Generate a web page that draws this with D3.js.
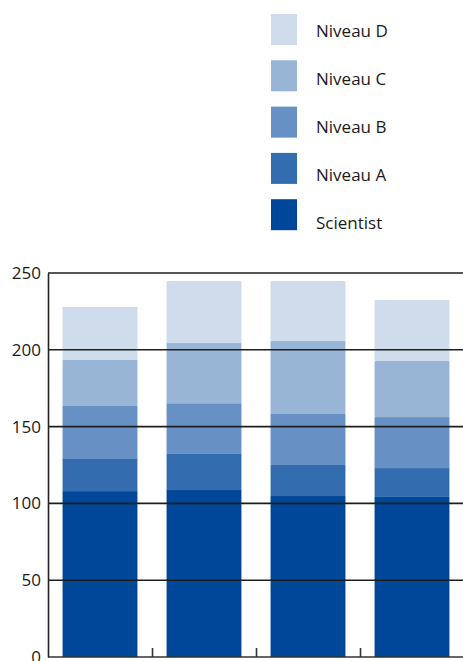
<!DOCTYPE html>
<html>
<head>
<meta charset="utf-8">
<script src="https://cdn.jsdelivr.net/npm/d3@7"></script>
<style>
  html, body { margin: 0; padding: 0; background: #fff; }
  svg { display: block; font-family: "Open Sans", "Noto Sans", sans-serif; }
</style>
</head>
<body>
<svg id="chart" width="463" height="661"></svg>
<script>
// data
const categories = ['1', '2', '3', '4']
const seriesNames = ['Scientist', 'Niveau A', 'Niveau B', 'Niveau C', 'Niveau D']
const scientist = [108, 108.7, 104.8, 104.2]
const niveauA = [21.4, 23.5, 20.2, 18.8]
const niveauB = [34, 33, 33.2, 33.2]
const niveauC = [30, 39.2, 47.5, 36.5]
const niveauD = [34.5, 40.4, 39.1, 39.7]
const yTicks = [0, 50, 100, 150, 200, 250]
const colors = ['#00479a', '#336db0', '#6791c4', '#99b5d6', '#cfdceb']

const rows = categories.map((c, i) => ({
  cat: c,
  'Scientist': scientist[i],
  'Niveau A': niveauA[i],
  'Niveau B': niveauB[i],
  'Niveau C': niveauC[i],
  'Niveau D': niveauD[i]
}))

const svg = d3.select('#chart')
const plotLeft = 48, plotRight = 464, plotTop = 273, plotBottom = 657

const x = d3.scaleBand()
    .domain(categories)
    .range([plotLeft, plotRight])
    .paddingInner(0.28)
    .paddingOuter(0.14)

const y = d3.scaleLinear()
    .domain([0, 250])
    .range([plotBottom, plotTop])

const color = d3.scaleOrdinal().domain(seriesNames).range(colors)

const stack = d3.stack().keys(seriesNames)(rows)

// bars
svg.append('g')
  .selectAll('g')
  .data(stack)
  .join('g')
    .attr('fill', d => color(d.key))
  .selectAll('rect')
  .data(d => d)
  .join('rect')
    .attr('x', d => x(d.data.cat))
    .attr('y', d => y(d[1]))
    .attr('width', x.bandwidth())
    .attr('height', d => y(d[0]) - y(d[1]))

// gridlines on top of the bars
svg.append('g')
  .selectAll('line')
  .data(yTicks.filter(t => t > 0))
  .join('line')
    .attr('x1', plotLeft)
    .attr('x2', 463)
    .attr('y1', d => y(d))
    .attr('y2', d => y(d))
    .attr('stroke', '#1e1e1e')
    .attr('stroke-width', 1.6)

// y axis
const yAxis = svg.append('g')
    .attr('transform', `translate(${plotLeft},0)`)
    .call(d3.axisLeft(y).tickValues(yTicks).tickSize(0).tickPadding(7))
yAxis.select('.domain').attr('stroke', '#222').attr('stroke-width', 1.6)
yAxis.selectAll('text')
    .attr('font-size', 17)
    .attr('fill', '#1a1a1a')
    .style('font-family', '"Open Sans", sans-serif')

// x axis with boundary ticks pointing up
const xAxis = svg.append('g')
    .attr('transform', `translate(0,${plotBottom})`)
xAxis.append('line')
    .attr('x1', plotLeft).attr('x2', 463)
    .attr('stroke', '#333').attr('stroke-width', 1.6)
xAxis.selectAll('.tick')
  .data(categories)
  .join('line')
    .attr('class', 'tick')
    .attr('x1', d => x(d) + x.bandwidth() + x.step() * 0.14 + 0.5)
    .attr('x2', d => x(d) + x.bandwidth() + x.step() * 0.14 + 0.5)
    .attr('y1', 0)
    .attr('y2', -9)
    .attr('stroke', '#333')
    .attr('stroke-width', 1.6)

// legend, top series first
const legend = svg.append('g')
    .selectAll('g')
    .data(seriesNames.slice().reverse())
    .join('g')

legend.append('rect')
    .attr('x', 271)
    .attr('y', (d, i) => 14 + i * 46.3)
    .attr('width', 26)
    .attr('height', 31)
    .attr('fill', d => color(d))

legend.append('text')
    .attr('x', 316)
    .attr('y', (d, i) => 36.5 + i * 48.1)
    .attr('font-size', 17)
    .attr('fill', '#1a1a1a')
    .text(d => d)
</script>
</body>
</html>
